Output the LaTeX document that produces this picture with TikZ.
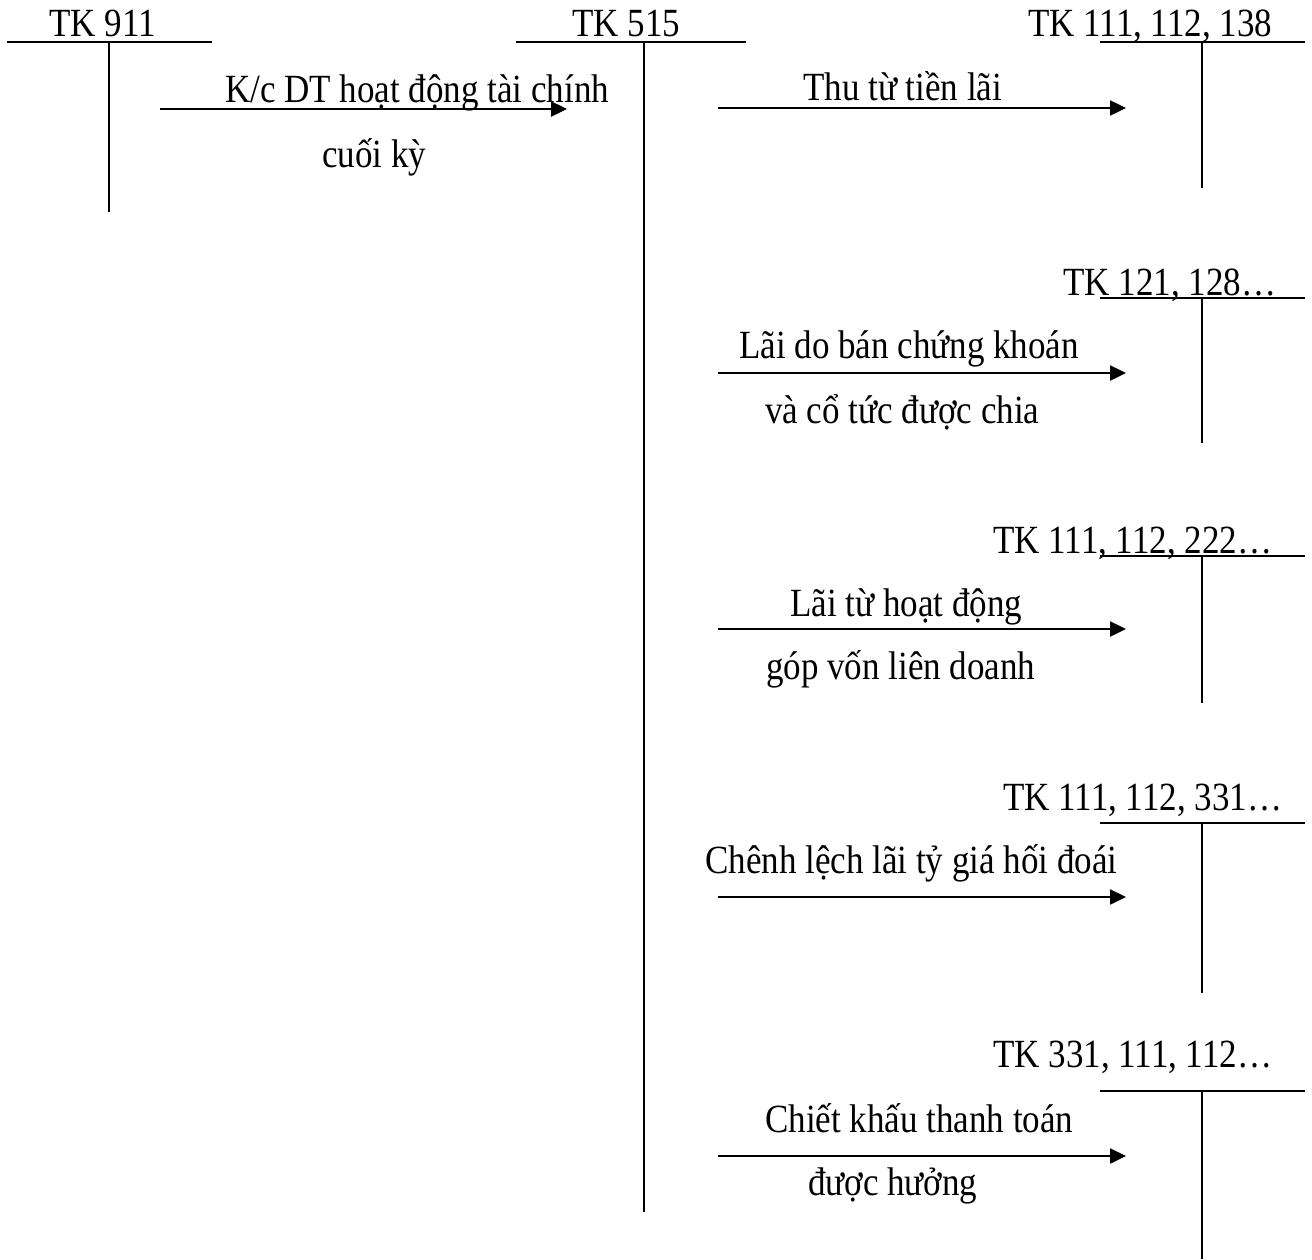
\documentclass[tikz,border=0pt]{standalone}
\usepackage{fontspec}
\setmainfont{Liberation Serif}[FakeStretch=0.875]
\usetikzlibrary{arrows.meta}

\begin{document}
\begin{tikzpicture}[x=1pt,y=-1pt,
  lbl/.style={anchor=base west,inner sep=0pt,font=\fontsize{40}{44}\selectfont},
  tline/.style={line width=2pt},
  flow/.style={line width=2.4pt,-{Triangle[length=16pt,width=15pt]}}]
\useasboundingbox (0,0) rectangle (1312,1259);

% ---- T-account TK 911 ----
\node[lbl] (h911) at (49,36) {TK 911};
\coordinate (t911l) at (7,42);
\coordinate (t911r) at (212,42);
\coordinate (t911t) at (109,42);
\coordinate (t911b) at (109,212);
\draw[tline] (t911l) -- (t911r);
\draw[tline] (t911t) -- (t911b);

% ---- T-account TK 515 ----
\node[lbl] (h515) at (572,36) {TK 515};
\coordinate (t515l) at (516,42);
\coordinate (t515r) at (746,42);
\coordinate (t515t) at (644,42);
\coordinate (t515b) at (644,1212);
\draw[tline] (t515l) -- (t515r);
\draw[tline] (t515t) -- (t515b);

% ---- right-hand accounts ----
\node[lbl] (hA) at (1028,36) {TK 111, 112, 138};
\coordinate (tAl) at (1100,42);  \coordinate (tAr) at (1305,42);
\coordinate (tAt) at (1202,42);  \coordinate (tAb) at (1202,188);
\draw[tline] (tAl) -- (tAr);
\draw[tline] (tAt) -- (tAb);

\node[lbl] (hB) at (1063,295) {TK 121, 128…};
\coordinate (tBl) at (1100,298); \coordinate (tBr) at (1305,298);
\coordinate (tBt) at (1202,298); \coordinate (tBb) at (1202,443);
\draw[tline] (tBl) -- (tBr);
\draw[tline] (tBt) -- (tBb);

\node[lbl] (hC) at (993,553) {TK 111, 112, 222…};
\coordinate (tCl) at (1100,556); \coordinate (tCr) at (1305,556);
\coordinate (tCt) at (1202,556); \coordinate (tCb) at (1202,703);
\draw[tline] (tCl) -- (tCr);
\draw[tline] (tCt) -- (tCb);

\node[lbl] (hD) at (1003,810) {TK 111, 112, 331…};
\coordinate (tDl) at (1100,823); \coordinate (tDr) at (1305,823);
\coordinate (tDt) at (1202,823); \coordinate (tDb) at (1202,993);
\draw[tline] (tDl) -- (tDr);
\draw[tline] (tDt) -- (tDb);

\node[lbl] (hE) at (993,1067) {TK 331, 111, 112…};
\coordinate (tEl) at (1100,1091); \coordinate (tEr) at (1305,1091);
\coordinate (tEt) at (1202,1091); \coordinate (tEb) at (1202,1259);
\draw[tline] (tEl) -- (tEr);
\draw[tline] (tEt) -- (tEb);

% ---- transfer 515 -> 911 ----
\coordinate (f0s) at (160,109);
\coordinate (f0e) at (567,109);
\draw[flow] (f0s) -- (f0e);
\node[lbl] (l0a) at (225,102) {K/c DT hoạt động tài chính};
\node[lbl] (l0b) at (322,167) {cuối kỳ};

% ---- entries from 515 ----
\coordinate (f1s) at (718,108);  \coordinate (f1e) at (1126,108);
\draw[flow] (f1s) -- (f1e);
\node[lbl] (l1a) at (803,100) {Thu từ tiền lãi};

\coordinate (f2s) at (718,373);  \coordinate (f2e) at (1126,373);
\draw[flow] (f2s) -- (f2e);
\node[lbl] (l2a) at (739,358) {Lãi do bán chứng khoán};
\node[lbl] (l2b) at (765,423) {và cổ tức được chia};

\coordinate (f3s) at (718,629);  \coordinate (f3e) at (1126,629);
\draw[flow] (f3s) -- (f3e);
\node[lbl] (l3a) at (790,616) {Lãi từ hoạt động};
\node[lbl] (l3b) at (766,679) {góp vốn liên doanh};

\coordinate (f4s) at (718,897);  \coordinate (f4e) at (1126,897);
\draw[flow] (f4s) -- (f4e);
\node[lbl] (l4a) at (705,873) {Chênh lệch lãi tỷ giá hối đoái};

\coordinate (f5s) at (718,1156); \coordinate (f5e) at (1126,1156);
\draw[flow] (f5s) -- (f5e);
\node[lbl] (l5a) at (765,1132) {Chiết khấu thanh toán};
\node[lbl] (l5b) at (808,1195) {được hưởng};
\end{tikzpicture}
\end{document}
